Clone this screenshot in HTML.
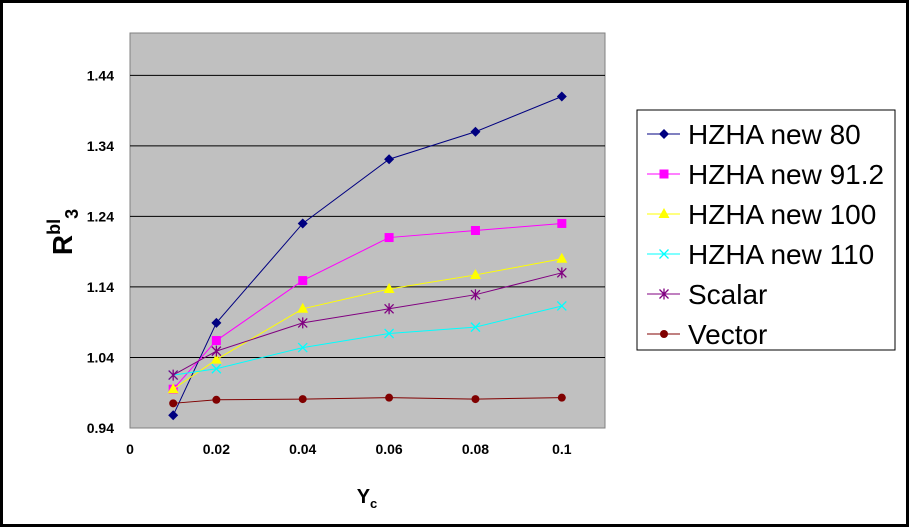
<!DOCTYPE html>
<html><head><meta charset="utf-8"><style>
body{margin:0;background:#fff}
svg{display:block;font-family:"Liberation Sans",Arial,sans-serif}
</style></head><body>
<svg id="chart" width="909" height="527">
<rect x="1.5" y="1.5" width="906" height="524" fill="#fff" stroke="#000" stroke-width="3"/>
<rect x="130" y="33" width="475" height="395" fill="#c0c0c0" stroke="#808080"/>
<g id="grid"></g><g id="axes"></g><g id="series"></g>
<text x="367" y="503" font-size="20" font-weight="bold" text-anchor="middle">Y<tspan font-size="13" dy="5">c</tspan></text>
<text transform="translate(72,232) rotate(-90)" font-size="28" font-weight="bold" text-anchor="middle">R<tspan font-size="18" dy="-12">bl</tspan><tspan font-size="18" dy="18">3</tspan></text>
<rect x="637" y="110" width="258" height="240" fill="#fff" stroke="#000"/>
<g id="legend"></g>
</svg>
<script>
const xValues=[0.01,0.02,0.04,0.06,0.08,0.1];
const seriesNames=["HZHA new 80","HZHA new 91.2","HZHA new 100","HZHA new 110","Scalar","Vector"];
const s80=[0.958,1.089,1.230,1.321,1.360,1.410];
const s912=[0.995,1.064,1.149,1.210,1.220,1.230];
const s100=[0.995,1.037,1.109,1.137,1.157,1.180];
const s110=[1.015,1.024,1.054,1.074,1.083,1.113];
const sScalar=[1.015,1.049,1.089,1.109,1.129,1.160];
const sVector=[0.975,0.980,0.981,0.983,0.981,0.983];
const yTicks=[0.94,1.04,1.14,1.24,1.34,1.44];
const xTicks=[0,0.02,0.04,0.06,0.08,0.1];
const xTickLabels=["0","0.02","0.04","0.06","0.08","0.1"];
const colors=["#000080","#ff00ff","#ffff00","#00ffff","#800080","#800000"];
const markers=["diamond","square","triangle","x","star","circle"];
const X=v=>130+v/0.11*475, Y=v=>428-(v-0.94)/0.56*395;
const NS="http://www.w3.org/2000/svg";
function mk(t,a,p){const e=document.createElementNS(NS,t);for(const k in a)e.setAttribute(k,a[k]);p.appendChild(e);return e;}
const grid=document.getElementById('grid'),axes=document.getElementById('axes'),ser=document.getElementById('series'),leg=document.getElementById('legend');
yTicks.forEach(v=>{
 if(v>0.94){const l=mk('line',{x1:130,x2:605,y1:Y(v),y2:Y(v),stroke:'#000'},grid);
 
 }
 const t=mk('text',{x:114,y:Y(v)+5,'font-size':14,'font-weight':'bold','text-anchor':'end'},axes);t.textContent=v.toFixed(2);
 
 
});
xTicks.forEach((v,i)=>{
 const t=mk('text',{x:X(v),y:454,'font-size':14,'font-weight':'bold','text-anchor':'middle'},axes);t.textContent=xTickLabels[i];
 
 
});
function marker(type,x,y,c,p){
 let e;
 if(type==='diamond')e=mk('polygon',{points:`${x},${y-5} ${x+5},${y} ${x},${y+5} ${x-5},${y}`,fill:c},p);
 else if(type==='square')e=mk('rect',{x:x-4.5,y:y-4.5,width:9,height:9,fill:c},p);
 else if(type==='triangle')e=mk('polygon',{points:`${x},${y-6} ${x+5.5},${y+4} ${x-5.5},${y+4}`,fill:c},p);
 else if(type==='circle')e=mk('circle',{cx:x,cy:y,r:4,fill:c},p);
 else{e=mk('path',{d:`M${x-4.5},${y-4.5}L${x+4.5},${y+4.5}M${x-4.5},${y+4.5}L${x+4.5},${y-4.5}`+(type==='star'?`M${x},${y-5.5}V${y+5.5}`:''),stroke:c,'stroke-width':1.3,fill:'none'},p);}
 
 
}
[s80,s912,s100,s110,sScalar,sVector].forEach((d,i)=>{
 const pl=mk('polyline',{points:d.map((v,j)=>X(xValues[j])+','+Y(v)).join(' '),fill:'none',stroke:colors[i],'stroke-width':1},ser);
 
 
 d.forEach((v,j)=>marker(markers[i],X(xValues[j]),Y(v),colors[i],ser));
 const ly=134+i*40;
 const ll=mk('line',{x1:647,x2:680,y1:ly,y2:ly,stroke:colors[i]},leg);
 
 
 marker(markers[i],664,ly,colors[i],leg);
 const t=mk('text',{x:688,y:ly+10,'font-size':28},leg);t.textContent=seriesNames[i];
 
 
});
</script>
</body></html>
